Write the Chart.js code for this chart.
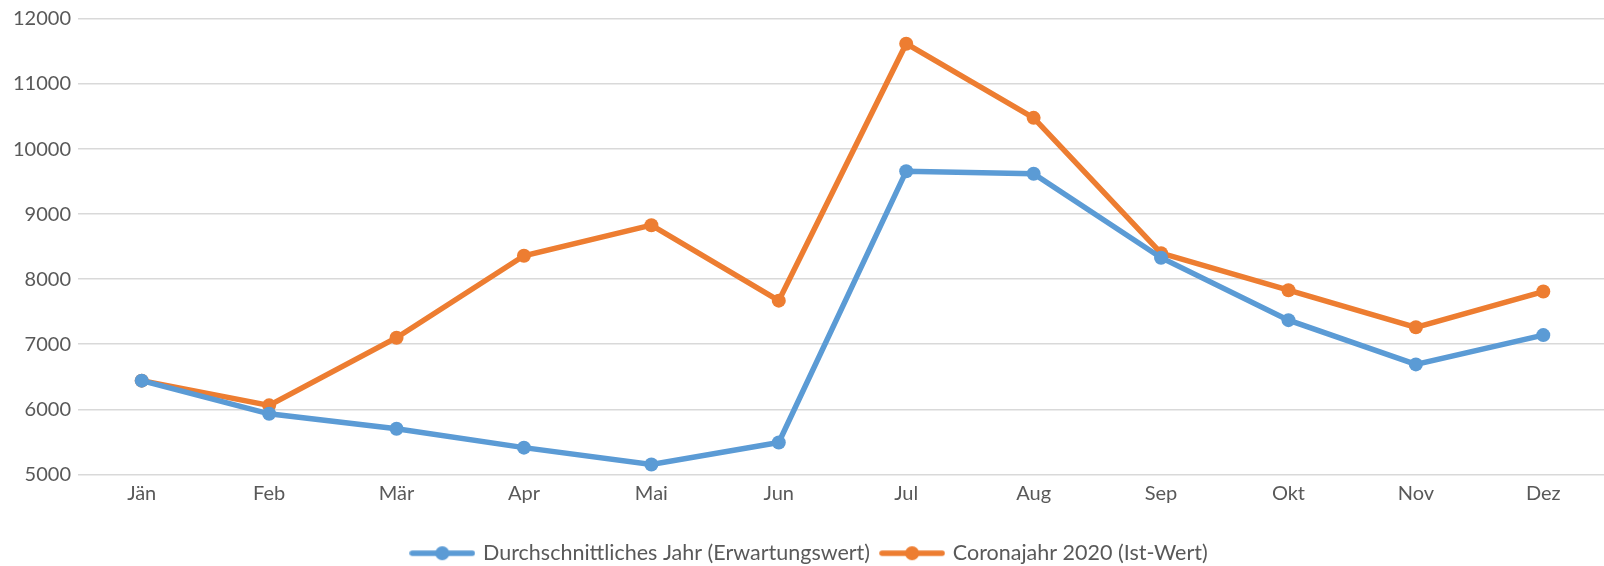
<!DOCTYPE html>
<html>
<head>
<meta charset="utf-8">
<script src="https://cdn.jsdelivr.net/npm/chart.js@4.4.1/dist/chart.umd.min.js"></script>
<style>
  html, body { margin: 0; padding: 0; background: #fff; overflow: hidden; }
  #wrap { width: 1614px; height: 566px; position: relative; }
</style>
</head>
<body>
<div id="wrap"><canvas id="chart"></canvas></div>
<script>
// Monate
const monate = ['Jän', 'Feb', 'Mär', 'Apr', 'Mai', 'Jun', 'Jul', 'Aug', 'Sep', 'Okt', 'Nov', 'Dez'];

// Werte
const durchschnitt = [6440, 5930, 5700, 5410, 5150, 5490, 9660, 9620, 8330, 7370, 6690, 7140];
const corona2020 = [6440, 6060, 7100, 8360, 8830, 7670, 11620, 10480, 8400, 7830, 7260, 7810];

const namen = ['Durchschnittliches Jahr (Erwartungswert)', 'Coronajahr 2020 (Ist-Wert)'];
const farben = ['#5B9BD5', '#ED7D31'];

const yTicks = [5000, 6000, 7000, 8000, 9000, 10000, 11000, 12000];

// Legendensymbol: Linie mit Punkt
function legendeSymbol(farbe) {
    let c = document.createElement('canvas');
    c.width = 66;
    c.height = 16;
    let ctx = c.getContext('2d');
    ctx.strokeStyle = farbe;
    ctx.lineWidth = 5.5;
    ctx.lineCap = 'round';
    ctx.beginPath();
    ctx.moveTo(3, 8);
    ctx.lineTo(63, 8);
    ctx.stroke();
    ctx.fillStyle = farbe;
    ctx.beginPath();
    ctx.arc(33, 8, 7, 0, Math.PI * 2);
    ctx.fill();
    return c;
}

let symbole = farben.map(legendeSymbol);

let datensatz = (label, data, farbe) => ({
    label: label,
    data: data,
    borderColor: farbe,
    backgroundColor: farbe,
    borderWidth: 5.5,
    pointRadius: 7,
    pointHoverRadius: 7,
    pointBorderWidth: 0,
    tension: 0
});

var config = {
    type: 'line',
    data: {
        labels: monate,
        datasets: [
            datensatz(namen[0], durchschnitt, farben[0]),
            datensatz(namen[1], corona2020, farben[1])
        ]
    },
    options: {
        responsive: true,
        maintainAspectRatio: false,
        animation: false,
        layout: {
            padding: { top: 11, right: 0, left: 6, bottom: -8 }
        },
        scales: {
            x: {
                offset: true,
                grid: { display: false, drawTicks: false },
                border: { display: false },
                ticks: {
                    color: '#595959',
                    font: { family: 'Lato', size: 20 },
                    padding: 7
                }
            },
            y: {
                min: 5000,
                max: 12000,
                afterBuildTicks: (scale) => {
                    scale.ticks = yTicks.map(v => ({ value: v }));
                },
                grid: {
                    color: '#D9D9D9',
                    lineWidth: 1.5,
                    drawTicks: false
                },
                border: { display: false },
                ticks: {
                    color: '#595959',
                    font: { family: 'Lato', size: 20 },
                    padding: 7,
                    callback: (v) => String(v)
                }
            }
        },
        plugins: {
            legend: {
                position: 'bottom',
                title: {
                    display: true,
                    text: ' ',
                    font: { size: 1 },
                    padding: { top: 17, bottom: 0 }
                },
                labels: {
                    usePointStyle: true,
                    pointStyleWidth: 60,
                    color: '#595959',
                    font: { family: 'Lato', size: 21.5 },
                    padding: 12,
                    generateLabels: (chart) => {
                        return chart.data.datasets.map((ds, i) => ({
                            text: ds.label,
                            fillStyle: ds.borderColor,
                            strokeStyle: ds.borderColor,
                            lineWidth: 0,
                            pointStyle: symbole[i],
                            datasetIndex: i,
                            hidden: false,
                            fontColor: '#595959'
                        }));
                    }
                }
            },
            tooltip: { enabled: false }
        }
    }
};

var ctx = document.getElementById('chart').getContext('2d');
var diagramm = new Chart(ctx, config);
</script>
</body>
</html>
